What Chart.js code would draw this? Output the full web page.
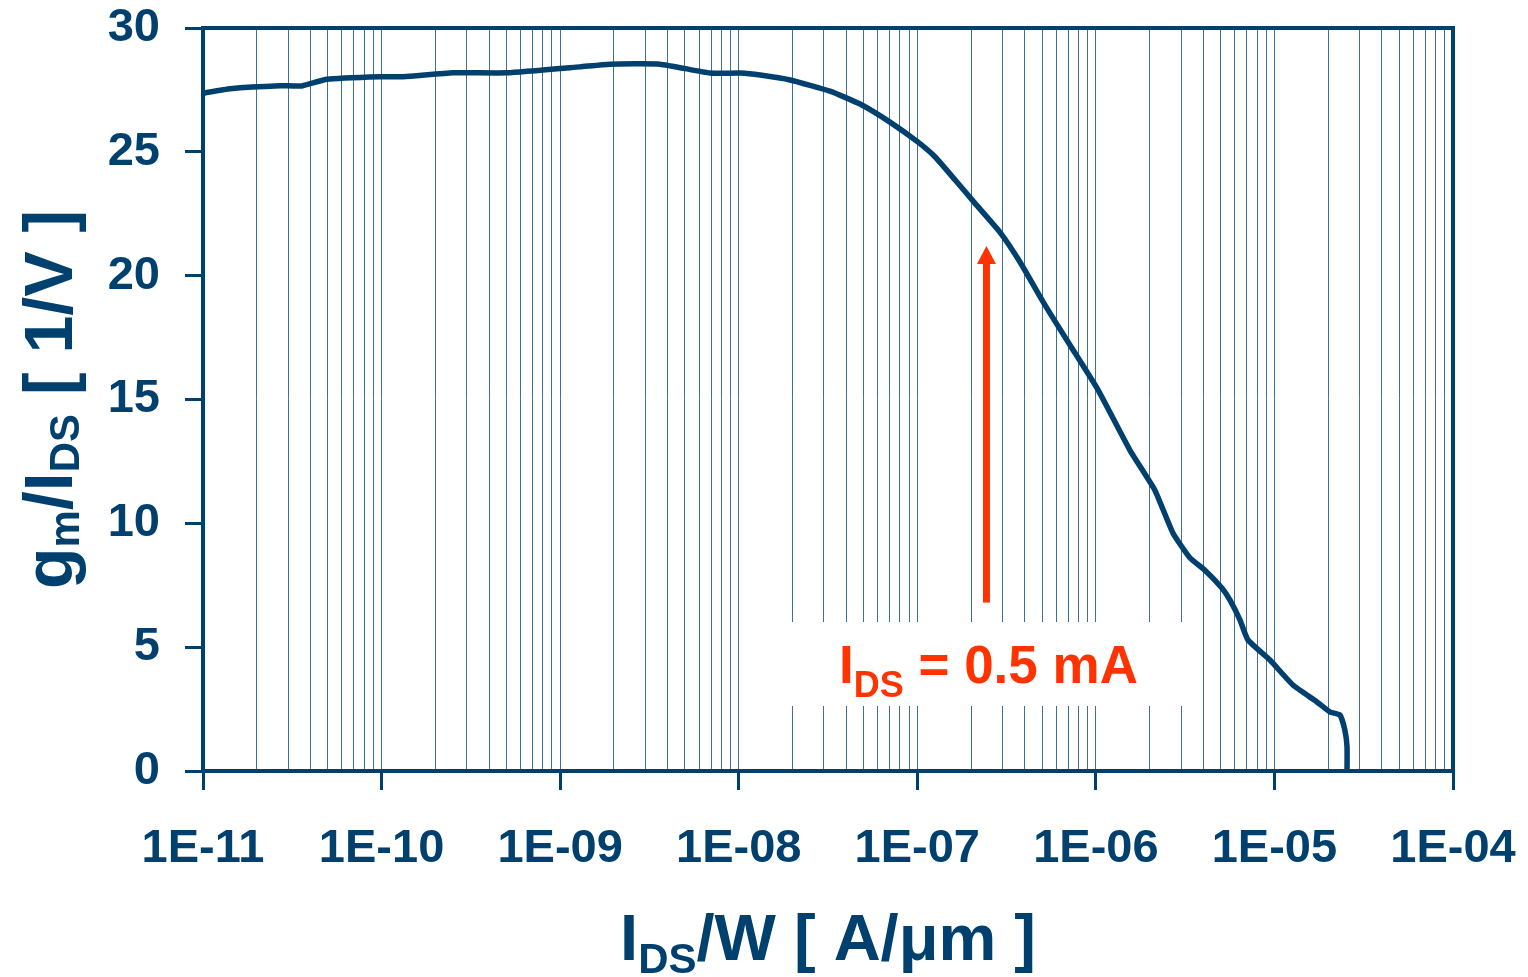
<!DOCTYPE html>
<html>
<head>
<meta charset="utf-8">
<script src="https://cdn.jsdelivr.net/npm/chart.js@4"></script>
<style>
  html, body { margin: 0; padding: 0; background: #fff; }
  #wrap { width: 1528px; height: 977px; position: relative; }
</style>
</head>
<body>
<div id="wrap"><canvas id="gmIdChart"></canvas></div>
<script>
// Datos: gm/IDS frente a IDS/W
const currentDensity = [
  1.0e-11, 1.42e-11, 2.70e-11, 3.58e-11, 4.94e-11, 9.8e-11, 1.32e-10, 2.51e-10,
  5.04e-10, 1.29e-9, 1.90e-9, 3.62e-9, 6.90e-9, 1.02e-8, 1.32e-8, 1.94e-8,
  3.24e-8, 4.78e-8, 7.03e-8, 1.01e-7, 1.26e-7, 1.63e-7, 2.10e-7, 2.90e-7,
  3.76e-7, 5.19e-7, 7.16e-7, 1.03e-6, 1.55e-6, 2.14e-6, 2.70e-6, 3.37e-6,
  4.08e-6, 5.08e-6, 5.64e-6, 6.41e-6, 7.11e-6, 9.44e-6, 1.27e-5, 1.73e-5,
  2.05e-5, 2.33e-5, 2.48e-5, 2.55e-5, 2.55e-5
];
const gmOverId = [
  27.37, 27.55, 27.67, 27.66, 27.93, 28.03, 28.03, 28.19,
  28.19, 28.43, 28.54, 28.54, 28.18, 28.18, 28.10, 27.90,
  27.45, 26.93, 26.20, 25.39, 24.79, 23.86, 22.93, 21.76,
  20.55, 18.81, 17.20, 15.38, 12.96, 11.34, 9.61, 8.60,
  8.11, 7.39, 6.90, 6.10, 5.29, 4.48, 3.47, 2.79,
  2.38, 2.26, 1.65, 0.97, 0
];
const xDecades = [1e-11, 1e-10, 1e-9, 1e-8, 1e-7, 1e-6, 1e-5, 1e-4];
const xTickLabels = ['1E-11', '1E-10', '1E-09', '1E-08', '1E-07', '1E-06', '1E-05', '1E-04'];
const yTickValues = [0, 5, 10, 15, 20, 25, 30];

// anotación: flecha en IDS = 0.5 mA
const arrowX = 2.44e-7;
const arrowFrom = 6.8;
const arrowTo = 21.2;
const annotationText = ['I', 'DS', ' = 0.5 mA'];

const NAVY = '#00406F';
const RED = '#FF3300';
const FONT = '"Liberation Sans", Arial, sans-serif';

const isMajor = v => xDecades.some(d => Math.abs(v / d - 1) < 1e-6);

// dibuja texto con subíndices, centrado en cx
function drawSubText(ctx, parts, cx, baseline, bigSize, smallSize, subDrop, color) {
  ctx.fillStyle = color;
  ctx.textBaseline = 'alphabetic';
  ctx.textAlign = 'left';
  let total = 0;
  parts.forEach(p => {
    ctx.font = 'bold ' + (p.sub ? smallSize : bigSize) + 'px ' + FONT;
    total += ctx.measureText(p.t).width;
  });
  let x = cx - total / 2;
  parts.forEach(p => {
    ctx.font = 'bold ' + (p.sub ? smallSize : bigSize) + 'px ' + FONT;
    ctx.fillText(p.t, x, baseline + (p.sub ? subDrop : 0));
    x += ctx.measureText(p.t).width;
  });
}

const extrasPlugin = {
  id: 'extras',
  afterDraw(chart) {
    const { ctx, chartArea: a, scales } = chart;
    ctx.save();
    // marco superior y derecho
    ctx.strokeStyle = NAVY;
    ctx.lineWidth = 4;
    ctx.strokeRect(a.left, a.top, a.right - a.left, a.bottom - a.top);

    // caja blanca de la anotación
    const ax = scales.x.getPixelForValue(arrowX);
    ctx.fillStyle = '#fff';
    ctx.fillRect(ax - 201, 622, 405, 84);
    drawSubText(ctx, [
      { t: annotationText[0] }, { t: annotationText[1], sub: true }, { t: annotationText[2] }
    ], ax + 2, 683, 53, 36, 14, RED);

    // flecha
    const yTop = scales.y.getPixelForValue(arrowTo);
    const yBot = scales.y.getPixelForValue(arrowFrom);
    ctx.fillStyle = RED;
    ctx.fillRect(ax - 3.5, yTop + 16, 7, yBot - yTop - 16);
    ctx.beginPath();
    ctx.moveTo(ax, yTop);
    ctx.lineTo(ax - 9.5, yTop + 18);
    ctx.lineTo(ax + 9.5, yTop + 18);
    ctx.closePath();
    ctx.fill();

    // título eje x
    drawSubText(ctx, [
      { t: 'I' }, { t: 'DS', sub: true }, { t: '/W [ A/\u03bcm ]' }
    ], (a.left + a.right) / 2, 960, 65, 42, 13, NAVY);

    // título eje y (rotado)
    ctx.translate(72, (a.top + a.bottom) / 2);
    ctx.rotate(-Math.PI / 2);
    drawSubText(ctx, [
      { t: 'g' }, { t: 'm', sub: true }, { t: '/I' }, { t: 'DS', sub: true }, { t: ' [ 1/V ]' }
    ], 0, 0, 68, 42, 7, NAVY);
    ctx.restore();
  }
};

const ctx = document.getElementById('gmIdChart').getContext('2d');
new Chart(ctx, {
  type: 'line',
  data: {
    datasets: [{
      label: 'gm/IDS',
      data: currentDensity.map((x, i) => ({ x, y: gmOverId[i] })),
      borderColor: NAVY,
      borderWidth: 5.5,
      pointRadius: 0,
      tension: 0.15,
      fill: false,
    }],
  },
  options: {
    responsive: true,
    maintainAspectRatio: false,
    animation: false,
    layout: { autoPadding: false, padding: { left: 0, top: 28, right: 75, bottom: 0 } },
    plugins: {
      legend: { display: false },
      tooltip: { enabled: false },
    },
    scales: {
      x: {
        type: 'logarithmic',
        min: 1e-11,
        max: 1e-4,
        afterBuildTicks(scale) {
          const ticks = [];
          xDecades.forEach((d, i) => {
            if (i === xDecades.length - 1) { ticks.push({ value: d }); return; }
            for (let m = 1; m <= 9; m++) ticks.push({ value: m * d });
          });
          scale.ticks = ticks;
        },
        afterFit(scale) {
          scale.height = 977 - 771;
          scale.paddingLeft = 0;
          scale.paddingRight = 0;
        },
        ticks: {
          autoSkip: false,
          maxRotation: 0,
          padding: 31,
          color: NAVY,
          font: { family: FONT, size: 47, weight: 'bold' },
          callback(value) {
            const i = xDecades.findIndex(d => Math.abs(value / d - 1) < 1e-6);
            return i >= 0 ? xTickLabels[i] : '';
          },
        },
        grid: {
          drawOnChartArea: true,
          color: 'rgba(0, 64, 111, 0.75)',
          lineWidth: 1,
          tickLength: 19,
          tickWidth: 3,
          tickColor: c => (c.tick && isMajor(c.tick.value) ? NAVY : 'rgba(0,0,0,0)'),
        },
        border: { display: true, color: NAVY, width: 4 },
        title: { display: false },
      },
      y: {
        min: 0,
        max: 30,
        afterBuildTicks(scale) { scale.ticks = yTickValues.map(v => ({ value: v })); },
        afterFit(scale) {
          scale.width = 203;
          scale.paddingTop = 0;
          scale.paddingBottom = 0;
        },
        ticks: {
          padding: 25,
          color: NAVY,
          font: { family: FONT, size: 47, weight: 'bold' },
        },
        grid: {
          drawOnChartArea: false,
          tickLength: 18,
          tickWidth: 3,
          tickColor: NAVY,
        },
        border: { display: true, color: NAVY, width: 4 },
        title: { display: false },
      },
    },
  },
  plugins: [extrasPlugin],
});
</script>
</body>
</html>
